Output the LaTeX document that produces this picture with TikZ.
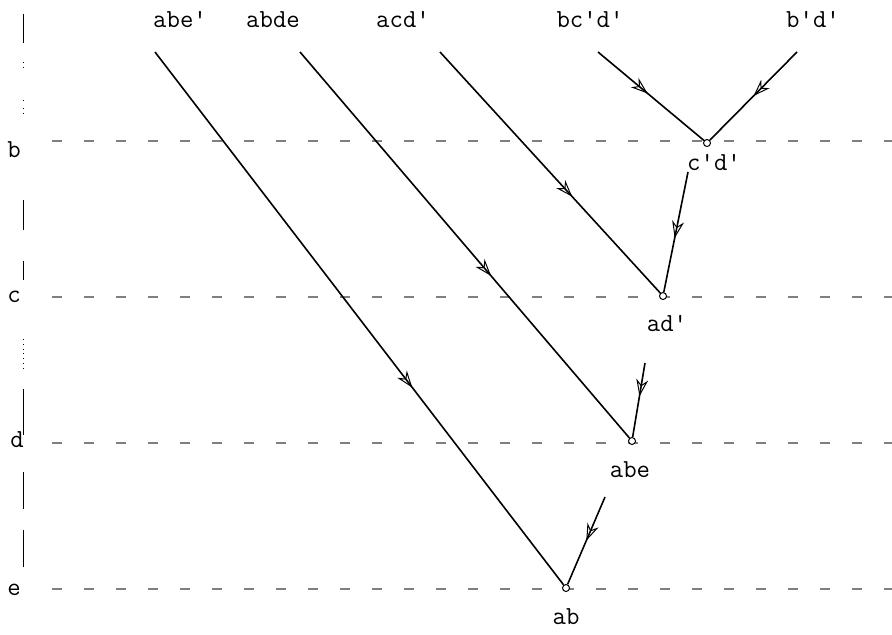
\documentclass[tikz,border=0pt]{standalone}
\usetikzlibrary{arrows.meta,decorations.markings}
\begin{document}
\begin{tikzpicture}[x=0.5pt,y=-0.5pt,
  lbl/.style={font=\ttfamily\fontsize{13}{15}\selectfont, inner sep=1pt},
  edge/.style={line width=0.8pt},
  midarr/.style={postaction={decorate,decoration={markings,
     mark=at position #1 with {\arrow{Stealth[open,length=8.5pt,width=6pt,line width=0.5pt]}}}}},
  rowline/.style={gray, line width=1.3pt, dash pattern=on 5pt off 11pt},
  vline/.style={line width=0.4pt},
  merge/.style={circle, draw, line width=0.5pt, inner sep=0pt, minimum size=3.5pt, fill=white}]
\useasboundingbox (0,0) rectangle (892,634);

% horizontal level lines
\draw[rowline] (52,141) -- (892,141);
\draw[rowline] (52,297) -- (892,297);
\draw[rowline] (52,443) -- (892,443);
\draw[rowline] (52,589) -- (892,589);

% left literals
\node[lbl] (rb) at (14,150) {b};
\node[lbl] (rc) at (14,297) {c};
\node[lbl] (rd) at (17,440) {d};
\node[lbl] (re) at (14,590) {e};

% broken vertical line
\foreach \a/\b in {14/43, 200/230, 261/280, 389/435, 472/509, 530/567}
  \draw[vline] (23,\a) -- (23,\b);
\foreach \a/\b in {62/68, 100/104, 108/114, 339/370}
  \draw[vline, dotted] (23,\a) -- (23,\b);

% top clauses
\node[lbl] (t1) at (180,20) {abe'};
\node[lbl] (t2) at (273,20) {abde};
\node[lbl] (t3) at (403,20) {acd'};
\node[lbl] (t4) at (590,20) {bc'd'};
\node[lbl] (t5) at (813,20) {b'd'};

\coordinate (s1) at (155,52);
\coordinate (s2) at (300,52);
\coordinate (s3) at (440,52);
\coordinate (s4) at (598,52);
\coordinate (s5) at (797,52);

% resolvents
\node[merge] (m1) at (707,143) {};
\node[merge] (m2) at (663,296) {};
\node[merge] (m3) at (632,441) {};
\node[merge] (m4) at (566,588) {};

\node[lbl] (l1) at (714,163) {c'd'};
\node[lbl] (l2) at (667,324) {ad'};
\node[lbl] (l3) at (630,470) {abe};
\node[lbl] (l4) at (566,617) {ab};

\coordinate (u1) at (688,172);
\coordinate (u2) at (645,363);
\coordinate (u3) at (605,497);

% derivation edges
\draw[edge, midarr=0.47] (s4) -- (m1);
\draw[edge, midarr=0.5] (s5) -- (m1);
\draw[edge, midarr=0.6] (s3) -- (m2);
\draw[edge, midarr=0.55] (u1) -- (m2);
\draw[edge, midarr=0.58] (s2) -- (m3);
\draw[edge, midarr=0.45] (u2) -- (m3);
\draw[edge, midarr=0.63] (s1) -- (m4);
\draw[edge, midarr=0.5] (u3) -- (m4);
\end{tikzpicture}
\end{document}
